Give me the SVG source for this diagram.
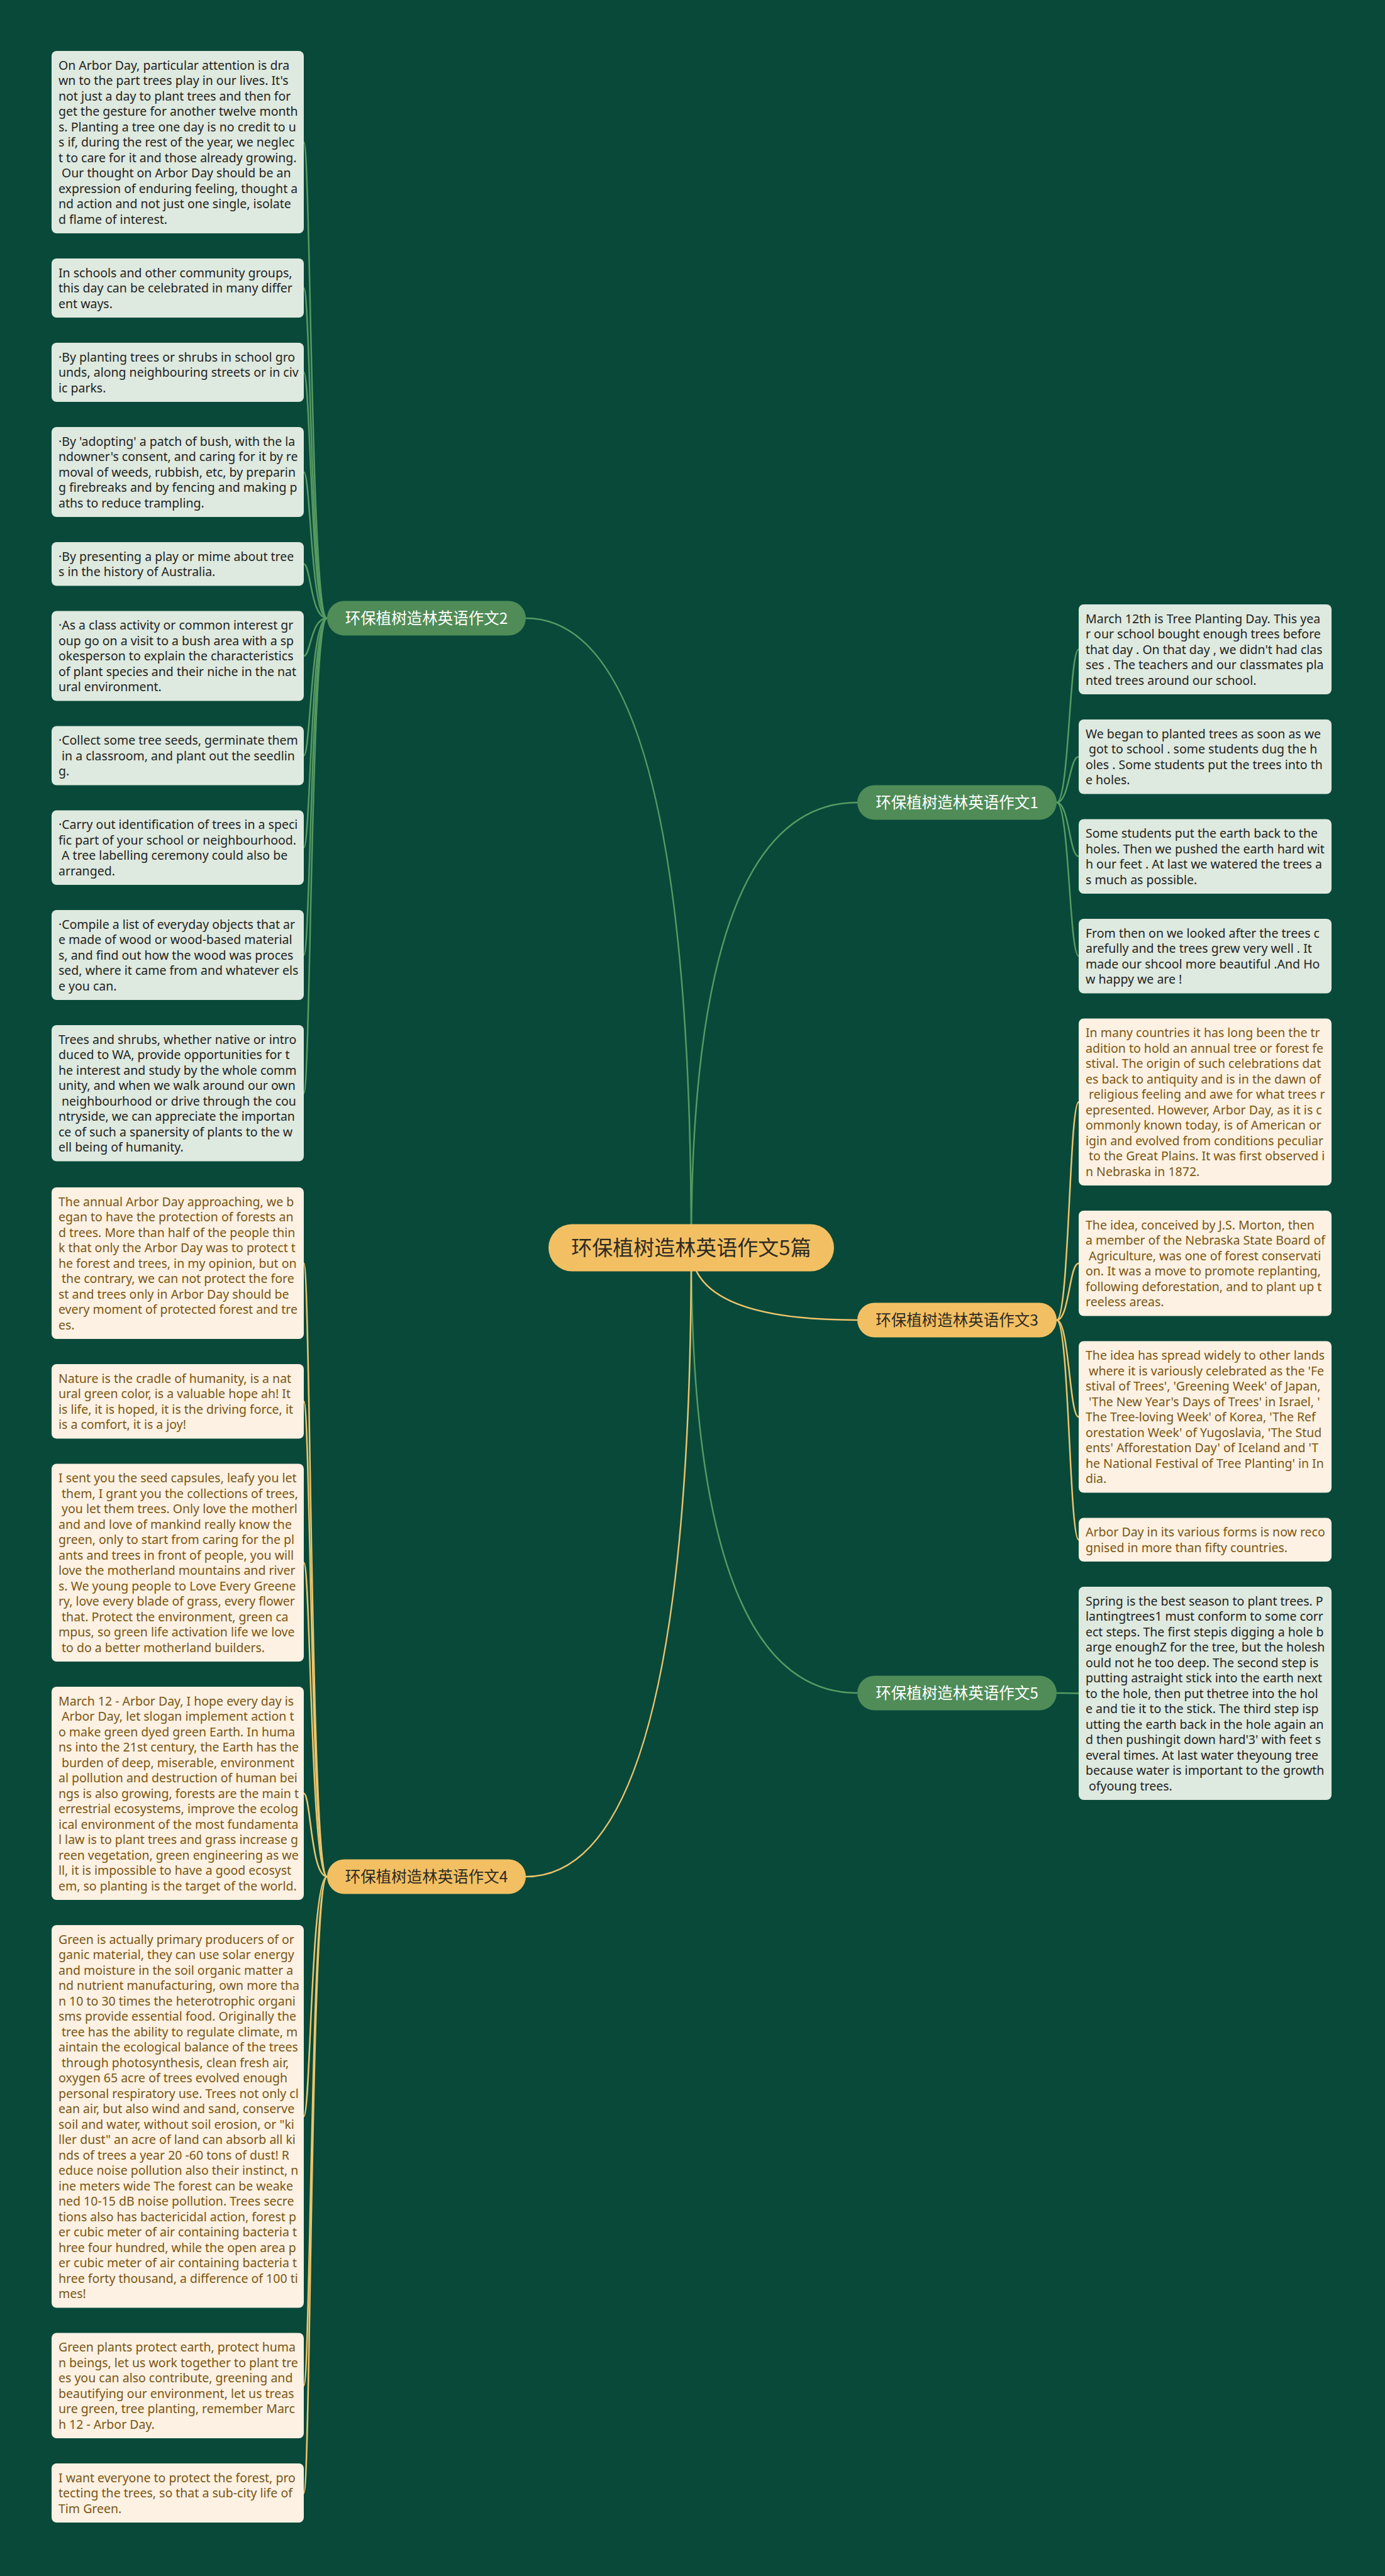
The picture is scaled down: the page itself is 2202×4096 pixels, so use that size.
<svg xmlns="http://www.w3.org/2000/svg" width="2202" height="4096" viewBox="0 0 2202 4096">
<style>
.bg{fill:#08493a}
.lg rect{fill:#dee9df}
.lg text{fill:#1e2320}
.cr rect{fill:#fcf1e2}
.cr text{fill:#7b5512}
.leaf text{font-family:"Noto Sans","Open Sans","Liberation Sans",sans-serif;font-size:19.5px}
.cg{fill:none;stroke:#579a62;stroke-width:2.5}
.cy{fill:none;stroke:#ecc46c;stroke-width:2.5}
.pg rect{fill:#4f8c57}
.pg text{fill:#ffffff}
.py rect{fill:#f2c063}
.py text{fill:#2e2a22}
.pill text{font-family:"Noto Sans CJK SC","Noto Sans",sans-serif;font-size:24.5px;text-anchor:middle}
#root text{font-size:33px}
</style>
<rect class="bg" x="0" y="0" width="2202" height="4096"/>
<g id="connectors">
<path class="cg" d="M1099,1984 Q1099,983 836,983"/>
<path class="cg" d="M1099,1984 Q1099,1276 1363,1276"/>
<path class="cy" d="M1099,1984 Q1099,2099 1363,2099"/>
<path class="cg" d="M1099,1984 Q1099,2692 1363,2692"/>
<path class="cy" d="M1099,1984 Q1099,2984 836,2984"/>
<path class="cg" d="M520,983 C494,983 494,226 483,226"/>
<path class="cg" d="M520,983 C494,983 494,458 483,458"/>
<path class="cg" d="M520,983 C494,983 494,592 483,592"/>
<path class="cg" d="M520,983 C494,983 494,750.5 483,750.5"/>
<path class="cg" d="M520,983 C494,983 494,896.75 483,896.75"/>
<path class="cg" d="M520,983 C494,983 494,1043 483,1043"/>
<path class="cg" d="M520,983 C494,983 494,1201.5 483,1201.5"/>
<path class="cg" d="M520,983 C494,983 494,1347.75 483,1347.75"/>
<path class="cg" d="M520,983 C494,983 494,1518.5 483,1518.5"/>
<path class="cg" d="M520,983 C494,983 494,1738.25 483,1738.25"/>
<path class="cy" d="M520,2984 C494,2984 494,2008.5 483,2008.5"/>
<path class="cy" d="M520,2984 C494,2984 494,2228.25 483,2228.25"/>
<path class="cy" d="M520,2984 C494,2984 494,2484.75 483,2484.75"/>
<path class="cy" d="M520,2984 C494,2984 494,2851.5 483,2851.5"/>
<path class="cy" d="M520,2984 C494,2984 494,3365.25 483,3365.25"/>
<path class="cy" d="M520,2984 C494,2984 494,3793.25 483,3793.25"/>
<path class="cy" d="M520,2984 C494,2984 494,3964 483,3964"/>
<path class="cg" d="M1680,1276 C1700,1276 1700,1032.5 1715,1032.5"/>
<path class="cg" d="M1680,1276 C1700,1276 1700,1203.25 1715,1203.25"/>
<path class="cg" d="M1680,1276 C1700,1276 1700,1361.75 1715,1361.75"/>
<path class="cg" d="M1680,1276 C1700,1276 1700,1520.25 1715,1520.25"/>
<path class="cy" d="M1680,2099 C1700,2099 1700,1752.25 1715,1752.25"/>
<path class="cy" d="M1680,2099 C1700,2099 1700,2008.75 1715,2008.75"/>
<path class="cy" d="M1680,2099 C1700,2099 1700,2253 1715,2253"/>
<path class="cy" d="M1680,2099 C1700,2099 1700,2448.25 1715,2448.25"/>
<path class="cg" d="M1680,2692 C1700,2692 1700,2692.5 1715,2692.5"/>
</g>
<g id="root" class="pill py"><rect x="872" y="1946.5" width="454" height="75" rx="37.5"/><text x="1099" y="1995.5">环保植树造林英语作文5篇</text></g>
<g id="b2" class="pill pg"><rect x="520" y="955.5" width="316" height="55" rx="27.5"/><text x="678" y="991.5">环保植树造林英语作文2</text></g>
<g id="b1" class="pill pg"><rect x="1363" y="1248.5" width="317" height="55" rx="27.5"/><text x="1521.5" y="1284.5">环保植树造林英语作文1</text></g>
<g id="b3" class="pill py"><rect x="1363" y="2071.5" width="317" height="55" rx="27.5"/><text x="1521.5" y="2107.5">环保植树造林英语作文3</text></g>
<g id="b5" class="pill pg"><rect x="1363" y="2664.5" width="317" height="55" rx="27.5"/><text x="1521.5" y="2700.5">环保植树造林英语作文5</text></g>
<g id="b4" class="pill py"><rect x="520" y="2956.5" width="316" height="55" rx="27.5"/><text x="678" y="2992.5">环保植树造林英语作文4</text></g>

<g id="l2-1" class="leaf lg"><rect x="82" y="81" width="401" height="290" rx="8"/><text x="93" y="110.5" xml:space="preserve"><tspan x="93">On Arbor Day, particular attention is dra</tspan><tspan x="93" dy="24.5">wn to the part trees play in our lives. It's</tspan><tspan x="93" dy="24.5">not just a day to plant trees and then for</tspan><tspan x="93" dy="24.5">get the gesture for another twelve month</tspan><tspan x="93" dy="24.5">s. Planting a tree one day is no credit to u</tspan><tspan x="93" dy="24.5">s if, during the rest of the year, we neglec</tspan><tspan x="93" dy="24.5">t to care for it and those already growing.</tspan><tspan x="93" dy="24.5"> Our thought on Arbor Day should be an</tspan><tspan x="93" dy="24.5">expression of enduring feeling, thought a</tspan><tspan x="93" dy="24.5">nd action and not just one single, isolate</tspan><tspan x="93" dy="24.5">d flame of interest.</tspan></text></g>
<g id="l2-2" class="leaf lg"><rect x="82" y="411" width="401" height="94" rx="8"/><text x="93" y="440.5" xml:space="preserve"><tspan x="93">In schools and other community groups,</tspan><tspan x="93" dy="24.5">this day can be celebrated in many differ</tspan><tspan x="93" dy="24.5">ent ways.</tspan></text></g>
<g id="l2-3" class="leaf lg"><rect x="82" y="545" width="401" height="94" rx="8"/><text x="93" y="574.5" xml:space="preserve"><tspan x="93">·By planting trees or shrubs in school gro</tspan><tspan x="93" dy="24.5">unds, along neighbouring streets or in civ</tspan><tspan x="93" dy="24.5">ic parks.</tspan></text></g>
<g id="l2-4" class="leaf lg"><rect x="82" y="679" width="401" height="143" rx="8"/><text x="93" y="708.5" xml:space="preserve"><tspan x="93">·By 'adopting' a patch of bush, with the la</tspan><tspan x="93" dy="24.5">ndowner's consent, and caring for it by re</tspan><tspan x="93" dy="24.5">moval of weeds, rubbish, etc, by preparin</tspan><tspan x="93" dy="24.5">g firebreaks and by fencing and making p</tspan><tspan x="93" dy="24.5">aths to reduce trampling.</tspan></text></g>
<g id="l2-5" class="leaf lg"><rect x="82" y="862" width="401" height="69.5" rx="8"/><text x="93" y="891.5" xml:space="preserve"><tspan x="93">·By presenting a play or mime about tree</tspan><tspan x="93" dy="24.5">s in the history of Australia.</tspan></text></g>
<g id="l2-6" class="leaf lg"><rect x="82" y="971.5" width="401" height="143" rx="8"/><text x="93" y="1001" xml:space="preserve"><tspan x="93">·As a class activity or common interest gr</tspan><tspan x="93" dy="24.5">oup go on a visit to a bush area with a sp</tspan><tspan x="93" dy="24.5">okesperson to explain the characteristics</tspan><tspan x="93" dy="24.5">of plant species and their niche in the nat</tspan><tspan x="93" dy="24.5">ural environment.</tspan></text></g>
<g id="l2-7" class="leaf lg"><rect x="82" y="1154.5" width="401" height="94" rx="8"/><text x="93" y="1184" xml:space="preserve"><tspan x="93">·Collect some tree seeds, germinate them</tspan><tspan x="93" dy="24.5"> in a classroom, and plant out the seedlin</tspan><tspan x="93" dy="24.5">g.</tspan></text></g>
<g id="l2-8" class="leaf lg"><rect x="82" y="1288.5" width="401" height="118.5" rx="8"/><text x="93" y="1318" xml:space="preserve"><tspan x="93">·Carry out identification of trees in a speci</tspan><tspan x="93" dy="24.5">fic part of your school or neighbourhood.</tspan><tspan x="93" dy="24.5"> A tree labelling ceremony could also be</tspan><tspan x="93" dy="24.5">arranged.</tspan></text></g>
<g id="l2-9" class="leaf lg"><rect x="82" y="1447" width="401" height="143" rx="8"/><text x="93" y="1476.5" xml:space="preserve"><tspan x="93">·Compile a list of everyday objects that ar</tspan><tspan x="93" dy="24.5">e made of wood or wood-based material</tspan><tspan x="93" dy="24.5">s, and find out how the wood was proces</tspan><tspan x="93" dy="24.5">sed, where it came from and whatever els</tspan><tspan x="93" dy="24.5">e you can.</tspan></text></g>
<g id="l2-10" class="leaf lg"><rect x="82" y="1630" width="401" height="216.5" rx="8"/><text x="93" y="1659.5" xml:space="preserve"><tspan x="93">Trees and shrubs, whether native or intro</tspan><tspan x="93" dy="24.5">duced to WA, provide opportunities for t</tspan><tspan x="93" dy="24.5">he interest and study by the whole comm</tspan><tspan x="93" dy="24.5">unity, and when we walk around our own</tspan><tspan x="93" dy="24.5"> neighbourhood or drive through the cou</tspan><tspan x="93" dy="24.5">ntryside, we can appreciate the importan</tspan><tspan x="93" dy="24.5">ce of such a spanersity of plants to the w</tspan><tspan x="93" dy="24.5">ell being of humanity.</tspan></text></g>

<g id="l4-1" class="leaf cr"><rect x="82" y="1888" width="401" height="241" rx="8"/><text x="93" y="1917.5" xml:space="preserve"><tspan x="93">The annual Arbor Day approaching, we b</tspan><tspan x="93" dy="24.5">egan to have the protection of forests an</tspan><tspan x="93" dy="24.5">d trees. More than half of the people thin</tspan><tspan x="93" dy="24.5">k that only the Arbor Day was to protect t</tspan><tspan x="93" dy="24.5">he forest and trees, in my opinion, but on</tspan><tspan x="93" dy="24.5"> the contrary, we can not protect the fore</tspan><tspan x="93" dy="24.5">st and trees only in Arbor Day should be</tspan><tspan x="93" dy="24.5">every moment of protected forest and tre</tspan><tspan x="93" dy="24.5">es.</tspan></text></g>
<g id="l4-2" class="leaf cr"><rect x="82" y="2169" width="401" height="118.5" rx="8"/><text x="93" y="2198.5" xml:space="preserve"><tspan x="93">Nature is the cradle of humanity, is a nat</tspan><tspan x="93" dy="24.5">ural green color, is a valuable hope ah! It</tspan><tspan x="93" dy="24.5">is life, it is hoped, it is the driving force, it</tspan><tspan x="93" dy="24.5">is a comfort, it is a joy!</tspan></text></g>
<g id="l4-3" class="leaf cr"><rect x="82" y="2327.5" width="401" height="314.5" rx="8"/><text x="93" y="2357" xml:space="preserve"><tspan x="93">I sent you the seed capsules, leafy you let</tspan><tspan x="93" dy="24.5"> them, I grant you the collections of trees,</tspan><tspan x="93" dy="24.5"> you let them trees. Only love the motherl</tspan><tspan x="93" dy="24.5">and and love of mankind really know the</tspan><tspan x="93" dy="24.5">green, only to start from caring for the pl</tspan><tspan x="93" dy="24.5">ants and trees in front of people, you will</tspan><tspan x="93" dy="24.5">love the motherland mountains and river</tspan><tspan x="93" dy="24.5">s. We young people to Love Every Greene</tspan><tspan x="93" dy="24.5">ry, love every blade of grass, every flower</tspan><tspan x="93" dy="24.5"> that. Protect the environment, green ca</tspan><tspan x="93" dy="24.5">mpus, so green life activation life we love</tspan><tspan x="93" dy="24.5"> to do a better motherland builders.</tspan></text></g>
<g id="l4-4" class="leaf cr"><rect x="82" y="2682" width="401" height="339" rx="8"/><text x="93" y="2711.5" xml:space="preserve"><tspan x="93">March 12 - Arbor Day, I hope every day is</tspan><tspan x="93" dy="24.5"> Arbor Day, let slogan implement action t</tspan><tspan x="93" dy="24.5">o make green dyed green Earth. In huma</tspan><tspan x="93" dy="24.5">ns into the 21st century, the Earth has the</tspan><tspan x="93" dy="24.5"> burden of deep, miserable, environment</tspan><tspan x="93" dy="24.5">al pollution and destruction of human bei</tspan><tspan x="93" dy="24.5">ngs is also growing, forests are the main t</tspan><tspan x="93" dy="24.5">errestrial ecosystems, improve the ecolog</tspan><tspan x="93" dy="24.5">ical environment of the most fundamenta</tspan><tspan x="93" dy="24.5">l law is to plant trees and grass increase g</tspan><tspan x="93" dy="24.5">reen vegetation, green engineering as we</tspan><tspan x="93" dy="24.5">ll, it is impossible to have a good ecosyst</tspan><tspan x="93" dy="24.5">em, so planting is the target of the world.</tspan></text></g>
<g id="l4-5" class="leaf cr"><rect x="82" y="3061" width="401" height="608.5" rx="8"/><text x="93" y="3090.5" xml:space="preserve"><tspan x="93">Green is actually primary producers of or</tspan><tspan x="93" dy="24.5">ganic material, they can use solar energy</tspan><tspan x="93" dy="24.5">and moisture in the soil organic matter a</tspan><tspan x="93" dy="24.5">nd nutrient manufacturing, own more tha</tspan><tspan x="93" dy="24.5">n 10 to 30 times the heterotrophic organi</tspan><tspan x="93" dy="24.5">sms provide essential food. Originally the</tspan><tspan x="93" dy="24.5"> tree has the ability to regulate climate, m</tspan><tspan x="93" dy="24.5">aintain the ecological balance of the trees</tspan><tspan x="93" dy="24.5"> through photosynthesis, clean fresh air,</tspan><tspan x="93" dy="24.5">oxygen 65 acre of trees evolved enough</tspan><tspan x="93" dy="24.5">personal respiratory use. Trees not only cl</tspan><tspan x="93" dy="24.5">ean air, but also wind and sand, conserve</tspan><tspan x="93" dy="24.5">soil and water, without soil erosion, or "ki</tspan><tspan x="93" dy="24.5">ller dust" an acre of land can absorb all ki</tspan><tspan x="93" dy="24.5">nds of trees a year 20 -60 tons of dust! R</tspan><tspan x="93" dy="24.5">educe noise pollution also their instinct, n</tspan><tspan x="93" dy="24.5">ine meters wide The forest can be weake</tspan><tspan x="93" dy="24.5">ned 10-15 dB noise pollution. Trees secre</tspan><tspan x="93" dy="24.5">tions also has bactericidal action, forest p</tspan><tspan x="93" dy="24.5">er cubic meter of air containing bacteria t</tspan><tspan x="93" dy="24.5">hree four hundred, while the open area p</tspan><tspan x="93" dy="24.5">er cubic meter of air containing bacteria t</tspan><tspan x="93" dy="24.5">hree forty thousand, a difference of 100 ti</tspan><tspan x="93" dy="24.5">mes!</tspan></text></g>
<g id="l4-6" class="leaf cr"><rect x="82" y="3709.5" width="401" height="167.5" rx="8"/><text x="93" y="3739" xml:space="preserve"><tspan x="93">Green plants protect earth, protect huma</tspan><tspan x="93" dy="24.5">n beings, let us work together to plant tre</tspan><tspan x="93" dy="24.5">es you can also contribute, greening and</tspan><tspan x="93" dy="24.5">beautifying our environment, let us treas</tspan><tspan x="93" dy="24.5">ure green, tree planting, remember Marc</tspan><tspan x="93" dy="24.5">h 12 - Arbor Day.</tspan></text></g>
<g id="l4-7" class="leaf cr"><rect x="82" y="3917" width="401" height="94" rx="8"/><text x="93" y="3946.5" xml:space="preserve"><tspan x="93">I want everyone to protect the forest, pro</tspan><tspan x="93" dy="24.5">tecting the trees, so that a sub-city life of</tspan><tspan x="93" dy="24.5">Tim Green.</tspan></text></g>

<g id="l1-1" class="leaf lg"><rect x="1715" y="961" width="402" height="143" rx="8"/><text x="1726" y="990.5" xml:space="preserve"><tspan x="1726">March 12th is Tree Planting Day. This yea</tspan><tspan x="1726" dy="24.5">r our school bought enough trees before</tspan><tspan x="1726" dy="24.5">that day . On that day , we didn't had clas</tspan><tspan x="1726" dy="24.5">ses . The teachers and our classmates pla</tspan><tspan x="1726" dy="24.5">nted trees around our school.</tspan></text></g>
<g id="l1-2" class="leaf lg"><rect x="1715" y="1144" width="402" height="118.5" rx="8"/><text x="1726" y="1173.5" xml:space="preserve"><tspan x="1726">We began to planted trees as soon as we</tspan><tspan x="1726" dy="24.5"> got to school . some students dug the h</tspan><tspan x="1726" dy="24.5">oles . Some students put the trees into th</tspan><tspan x="1726" dy="24.5">e holes.</tspan></text></g>
<g id="l1-3" class="leaf lg"><rect x="1715" y="1302.5" width="402" height="118.5" rx="8"/><text x="1726" y="1332" xml:space="preserve"><tspan x="1726">Some students put the earth back to the</tspan><tspan x="1726" dy="24.5">holes. Then we pushed the earth hard wit</tspan><tspan x="1726" dy="24.5">h our feet . At last we watered the trees a</tspan><tspan x="1726" dy="24.5">s much as possible.</tspan></text></g>
<g id="l1-4" class="leaf lg"><rect x="1715" y="1461" width="402" height="118.5" rx="8"/><text x="1726" y="1490.5" xml:space="preserve"><tspan x="1726">From then on we looked after the trees c</tspan><tspan x="1726" dy="24.5">arefully and the trees grew very well . It</tspan><tspan x="1726" dy="24.5">made our shcool more beautiful .And Ho</tspan><tspan x="1726" dy="24.5">w happy we are !</tspan></text></g>

<g id="l3-1" class="leaf cr"><rect x="1715" y="1619.5" width="402" height="265.5" rx="8"/><text x="1726" y="1649" xml:space="preserve"><tspan x="1726">In many countries it has long been the tr</tspan><tspan x="1726" dy="24.5">adition to hold an annual tree or forest fe</tspan><tspan x="1726" dy="24.5">stival. The origin of such celebrations dat</tspan><tspan x="1726" dy="24.5">es back to antiquity and is in the dawn of</tspan><tspan x="1726" dy="24.5"> religious feeling and awe for what trees r</tspan><tspan x="1726" dy="24.5">epresented. However, Arbor Day, as it is c</tspan><tspan x="1726" dy="24.5">ommonly known today, is of American or</tspan><tspan x="1726" dy="24.5">igin and evolved from conditions peculiar</tspan><tspan x="1726" dy="24.5"> to the Great Plains. It was first observed i</tspan><tspan x="1726" dy="24.5">n Nebraska in 1872.</tspan></text></g>
<g id="l3-2" class="leaf cr"><rect x="1715" y="1925" width="402" height="167.5" rx="8"/><text x="1726" y="1954.5" xml:space="preserve"><tspan x="1726">The idea, conceived by J.S. Morton, then</tspan><tspan x="1726" dy="24.5">a member of the Nebraska State Board of</tspan><tspan x="1726" dy="24.5"> Agriculture, was one of forest conservati</tspan><tspan x="1726" dy="24.5">on. It was a move to promote replanting,</tspan><tspan x="1726" dy="24.5">following deforestation, and to plant up t</tspan><tspan x="1726" dy="24.5">reeless areas.</tspan></text></g>
<g id="l3-3" class="leaf cr"><rect x="1715" y="2132.5" width="402" height="241" rx="8"/><text x="1726" y="2162" xml:space="preserve"><tspan x="1726">The idea has spread widely to other lands</tspan><tspan x="1726" dy="24.5"> where it is variously celebrated as the 'Fe</tspan><tspan x="1726" dy="24.5">stival of Trees', 'Greening Week' of Japan,</tspan><tspan x="1726" dy="24.5"> 'The New Year's Days of Trees' in Israel, '</tspan><tspan x="1726" dy="24.5">The Tree-loving Week' of Korea, 'The Ref</tspan><tspan x="1726" dy="24.5">orestation Week' of Yugoslavia, 'The Stud</tspan><tspan x="1726" dy="24.5">ents' Afforestation Day' of Iceland and 'T</tspan><tspan x="1726" dy="24.5">he National Festival of Tree Planting' in In</tspan><tspan x="1726" dy="24.5">dia.</tspan></text></g>
<g id="l3-4" class="leaf cr"><rect x="1715" y="2413.5" width="402" height="69.5" rx="8"/><text x="1726" y="2443" xml:space="preserve"><tspan x="1726">Arbor Day in its various forms is now reco</tspan><tspan x="1726" dy="24.5">gnised in more than fifty countries.</tspan></text></g>

<g id="l5-1" class="leaf lg"><rect x="1715" y="2523" width="402" height="339" rx="8"/><text x="1726" y="2552.5" xml:space="preserve"><tspan x="1726">Spring is the best season to plant trees. P</tspan><tspan x="1726" dy="24.5">lantingtrees1 must conform to some corr</tspan><tspan x="1726" dy="24.5">ect steps. The first stepis digging a hole b</tspan><tspan x="1726" dy="24.5">arge enoughZ for the tree, but the holesh</tspan><tspan x="1726" dy="24.5">ould not he too deep. The second step is</tspan><tspan x="1726" dy="24.5">putting astraight stick into the earth next</tspan><tspan x="1726" dy="24.5">to the hole, then put thetree into the hol</tspan><tspan x="1726" dy="24.5">e and tie it to the stick. The third step isp</tspan><tspan x="1726" dy="24.5">utting the earth back in the hole again an</tspan><tspan x="1726" dy="24.5">d then pushingit down hard'3' with feet s</tspan><tspan x="1726" dy="24.5">everal times. At last water theyoung tree</tspan><tspan x="1726" dy="24.5">because water is important to the growth</tspan><tspan x="1726" dy="24.5"> ofyoung trees.</tspan></text></g>
</svg>
